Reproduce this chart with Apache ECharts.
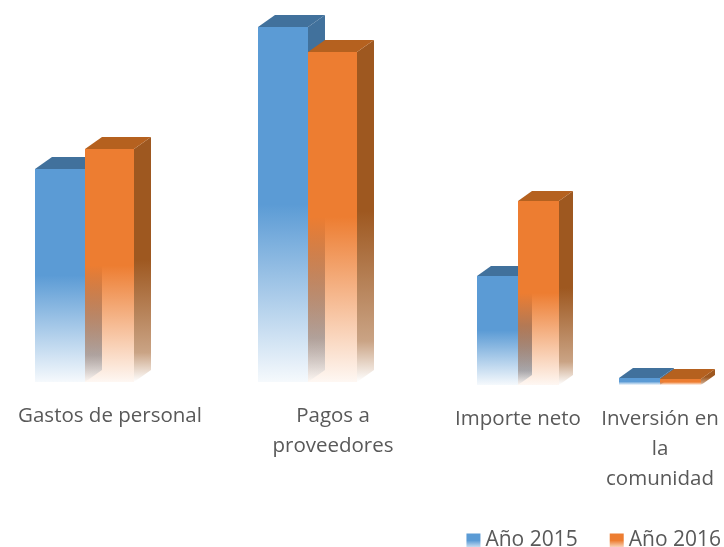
<!DOCTYPE html>
<html>
<head>
<meta charset="utf-8">
<style>html,body{margin:0;padding:0;background:#fff}#c{width:724px;height:547px}</style>
<script src="https://cdn.jsdelivr.net/npm/echarts@6/dist/echarts.min.js"></script>
</head>
<body>
<div id="c"></div>
<script>
// Data
const categories = ['Gastos de personal', 'Pagos a\nproveedores', 'Importe neto', 'Inversión en\nla\ncomunidad'];
const seriesNames = ['Año 2015', 'Año 2016'];
const values2015 = [213, 355, 109, 7];
const values2016 = [233, 330, 184, 6];

// Layout (perspective of the original 3D chart)
const slotCenter = [85, 308, 518, 660];
const slotHalfWidth = [50, 50, 41, 41];
const slotDepthX = [17, 17, 14, 14];
const slotDepthY = [12, 12, 10, 10];
const slotBaseShift = [0, 0, 3, 3];
const labelCenter = [110, 333, 518, 660];
const labelY = [401, 401, 404, 404];
const colors = [
  { front: [91, 155, 213], top: '#41719c', side: [65, 113, 156] },
  { front: [237, 125, 49], top: '#b5611f', side: [158, 88, 32] }
];

const rgba = (c, a) => `rgba(${c[0]},${c[1]},${c[2]},${a})`;
function fade(c, endAlpha) {
  return new echarts.graphic.LinearGradient(0, 0, 0, 1, [
    { offset: 0, color: rgba(c, 1) },
    { offset: 0.5, color: rgba(c, 1) },
    { offset: 1, color: rgba(c, endAlpha) }
  ]);
}
function sideFade(c) {
  return new echarts.graphic.LinearGradient(0, 0, 0, 1, [
    { offset: 0, color: rgba(c, 1) },
    { offset: 0.5, color: rgba(c, 1) },
    { offset: 0.88, color: rgba(c, 0.55) },
    { offset: 1, color: rgba(c, 0) }
  ]);
}

function barRenderer(seriesIdx) {
  return function (params, api) {
    const i = api.value(0);
    const v = api.value(1);
    const c = colors[seriesIdx];
    const cx = slotCenter[i];
    const x0 = api.coord([seriesIdx === 0 ? cx - slotHalfWidth[i] : cx, 0])[0];
    const x1 = api.coord([seriesIdx === 0 ? cx : cx + slotHalfWidth[i] - (i < 2 ? 1 : 0), 0])[0];
    const base = api.coord([cx, 0])[1] + slotBaseShift[i];
    const top = api.coord([cx, v])[1] + slotBaseShift[i];
    const dx = slotDepthX[i];
    const dy = slotDepthY[i];
    return {
      type: 'group',
      children: [
        { type: 'polygon', shape: { points: [[x1, top], [x1 + dx, top - dy], [x1 + dx, base - dy], [x1, base]] },
          style: { fill: sideFade(c.side) } },
        { type: 'rect', shape: { x: x0, y: top, width: x1 - x0, height: base - top },
          style: { fill: fade(c.front, 0.06) } },
        { type: 'polygon', shape: { points: [[x0, top], [x0 + dx, top - dy], [x1 + dx, top - dy], [x1, top]] },
          style: { fill: c.top } }
      ]
    };
  };
}

function labelRenderer(params, api) {
  const i = api.value(0);
  return {
    type: 'text',
    style: {
      x: api.coord([labelCenter[i], 0])[0],
      y: labelY[i],
      text: categories[i],
      fill: '#595959',
      font: '20.5px "Open Sans"',
      lineHeight: 30,
      align: 'center',
      verticalAlign: 'top'
    }
  };
}

const chart = echarts.init(document.getElementById('c'), null, { renderer: 'canvas' });
chart.setOption({
  animation: false,
  backgroundColor: '#fff',
  grid: { left: 0, top: 0, width: 724, height: 382 },
  xAxis: { type: 'value', min: 0, max: 724, show: false },
  yAxis: { type: 'value', min: 0, max: 382, show: false },
  legend: {
    data: seriesNames,
    right: 0,
    top: 525,
    padding: [5, 3, 5, 5],
    itemWidth: 14,
    itemHeight: 14,
    itemGap: 32,
    icon: 'rect',
    textStyle: { color: '#595959', fontSize: 21, fontFamily: 'Open Sans', padding: [0, 0, 0, 0] }
  },
  series: [
    { type: 'custom', name: seriesNames[0], coordinateSystem: 'cartesian2d', renderItem: barRenderer(0),
      itemStyle: { color: fade(colors[0].front, 0.3) }, silent: true, clip: false,
      data: values2015.map((v, i) => [i, v]) },
    { type: 'custom', name: seriesNames[1], coordinateSystem: 'cartesian2d', renderItem: barRenderer(1),
      itemStyle: { color: fade(colors[1].front, 0.3) }, silent: true, clip: false,
      data: values2016.map((v, i) => [i, v]) },
    { type: 'custom', name: 'labels', coordinateSystem: 'cartesian2d', renderItem: labelRenderer, silent: true, clip: false,
      data: categories.map((c, i) => [i, 0]) }
  ]
});
</script>
</body>
</html>
